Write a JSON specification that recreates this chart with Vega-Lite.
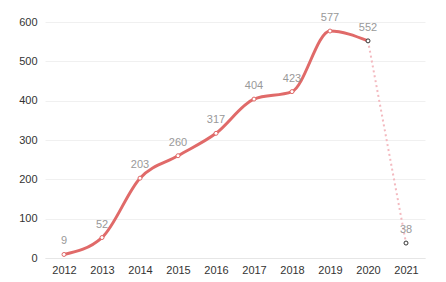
{
  "$schema": "https://vega.github.io/schema/vega-lite/v6.json",
  "width": 380,
  "height": 236,
  "autosize": {"type": "none"},
  "padding": {"left": 45, "top": 22, "right": 21, "bottom": 24},
  "config": {"view": {"stroke": null}, "font": "Helvetica, Liberation Sans, Arial, sans-serif"},
  "datasets": {
    "main": [
      {"year": "2012", "value": 9},
      {"year": "2013", "value": 52},
      {"year": "2014", "value": 203},
      {"year": "2015", "value": 260},
      {"year": "2016", "value": 317},
      {"year": "2017", "value": 404},
      {"year": "2018", "value": 423},
      {"year": "2019", "value": 577},
      {"year": "2020", "value": 552}
    ],
    "proj": [
      {"year": "2020", "value": 552},
      {"year": "2021", "value": 38}
    ],
    "all": [
      {"year": "2012", "value": 9},
      {"year": "2013", "value": 52},
      {"year": "2014", "value": 203},
      {"year": "2015", "value": 260},
      {"year": "2016", "value": 317},
      {"year": "2017", "value": 404},
      {"year": "2018", "value": 423},
      {"year": "2019", "value": 577},
      {"year": "2020", "value": 552},
      {"year": "2021", "value": 38}
    ]
  },
  "encoding": {
    "x": {
      "field": "year", "type": "ordinal",
      "scale": {"type": "point", "padding": 0.5, "domain": ["2012","2013","2014","2015","2016","2017","2018","2019","2020","2021"]},
      "axis": {"title": null, "labelAngle": 0, "ticks": false, "domainColor": "#e6e6e6", "labelColor": "#333", "labelFontSize": 11, "labelPadding": 6, "grid": false}
    },
    "y": {
      "field": "value", "type": "quantitative",
      "scale": {"domain": [0, 600]},
      "axis": {"title": null, "values": [0,100,200,300,400,500,600], "ticks": false, "domain": false, "gridColor": "#f0f0f0", "labelColor": "#333", "labelFontSize": 11, "labelPadding": 8}
    }
  },
  "layer": [
    {
      "data": {"name": "proj"},
      "mark": {"type": "line", "interpolate": "monotone", "stroke": "#f3b9bf", "strokeWidth": 2, "strokeDash": [2, 3]}
    },
    {
      "data": {"name": "main"},
      "mark": {"type": "line", "interpolate": "monotone", "stroke": "#e06a69", "strokeWidth": 3}
    },
    {
      "data": {"name": "all"},
      "mark": {"type": "point", "filled": false, "fill": "white", "size": 16, "strokeWidth": 1, "opacity": 1},
      "encoding": {
        "stroke": {"condition": {"test": "datum.year >= '2020'", "value": "#333"}, "value": "#e06a69"}
      }
    },
    {
      "data": {"name": "all"},
      "mark": {"type": "text", "dy": -13, "color": "#999", "fontSize": 11},
      "encoding": {"text": {"field": "value", "type": "quantitative"}}
    }
  ]
}
